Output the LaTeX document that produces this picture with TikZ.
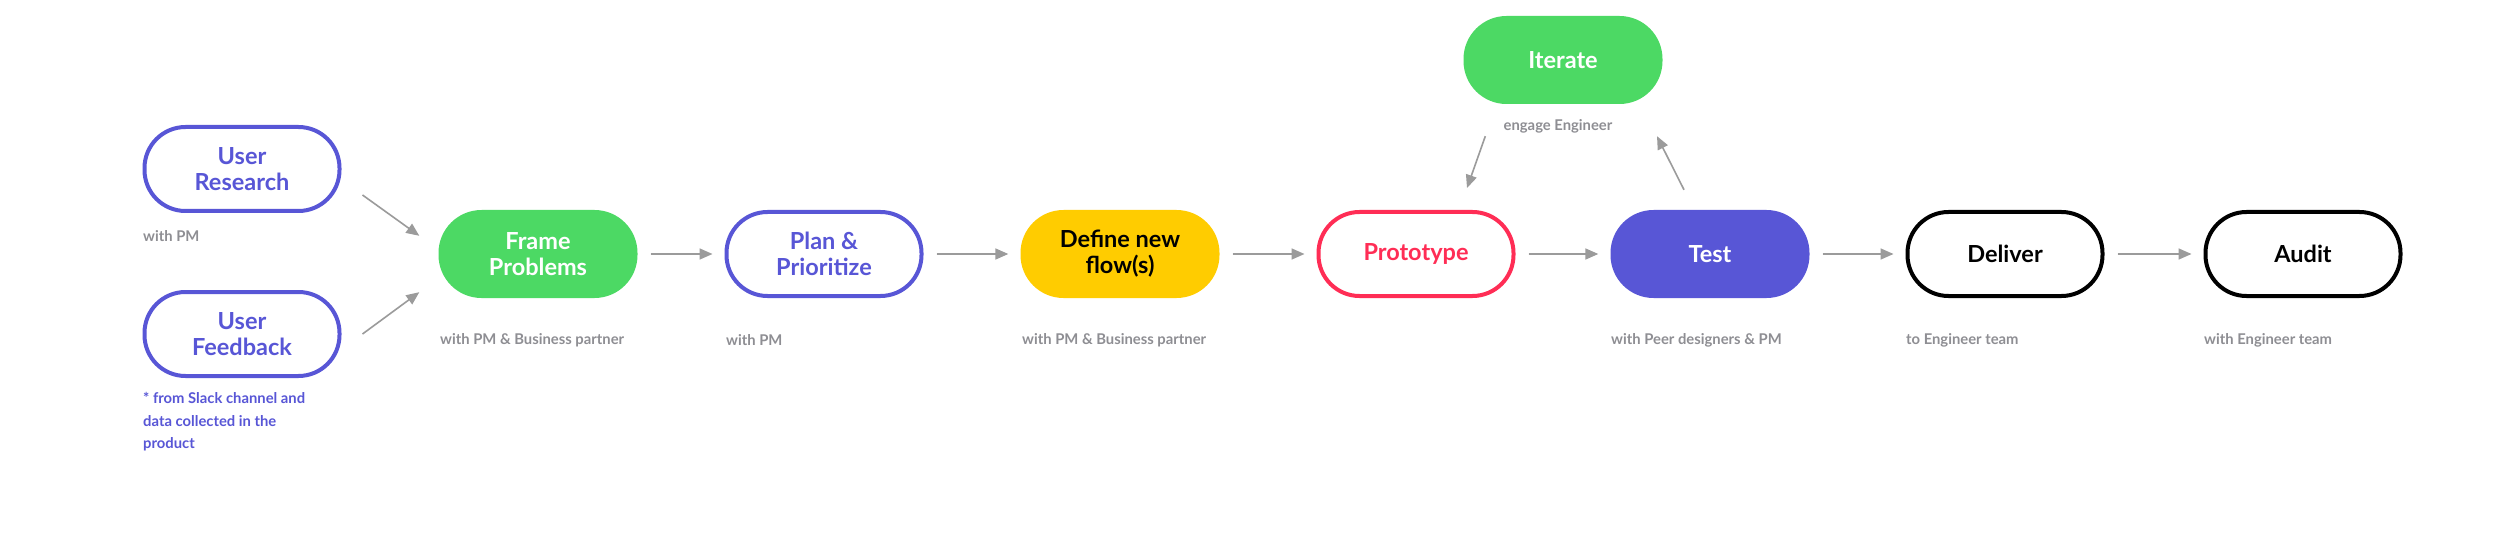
\documentclass[tikz,border=0pt]{standalone}
\usepackage{fontspec}
\setmainfont{Lato}
\usetikzlibrary{arrows.meta}
\definecolor{cpurple}{HTML}{5856D6}
\definecolor{cgreen}{HTML}{4CD964}
\definecolor{cyellow}{HTML}{FFCC00}
\definecolor{cred}{HTML}{FF2D55}
\definecolor{cgray}{HTML}{8E8E93}
\definecolor{carrow}{HTML}{9B9B9B}
\tikzset{
  pill/.style={rounded corners=43pt, minimum width=199pt, minimum height=88pt,
    align=center, inner sep=0pt, font=\bfseries\fontsize{23.5}{26}\selectfont},
  pillfill/.style={pill, fill=#1, draw=none},
  pillline/.style={pill, draw=#1, line width=4pt, minimum width=195pt, minimum height=84pt, rounded corners=41pt, fill=white},
  note/.style={font=\bfseries\fontsize{14.8}{22.5}\selectfont, text=cgray, anchor=west, inner sep=0pt, align=left},
  arr/.style={draw=carrow, line width=1.6pt, -{Triangle[length=13pt,width=11pt]}, fill=carrow},
}
\begin{document}
\begin{tikzpicture}[x=1pt,y=-1pt]
\fill[white] (0,0) rectangle (2500,540);
\useasboundingbox (0,0) rectangle (2500,540);

\node[pillline=cpurple, text=cpurple] (research) at (242,169) {User\\Research};
\node[pillline=cpurple, text=cpurple] (feedback) at (242,334) {User\\Feedback};
\node[pillfill=cgreen, text=white] (frame) at (538,254) {Frame\\Problems};
\node[pillline=cpurple, text=cpurple] (plan) at (824,254) {Plan \&\\Prioritize};
\node[pillfill=cyellow, text=black] (define) at (1120,254) {Define new\\flow(s)};
\node[pillline=cred, text=cred] (proto) at (1416,254) {Prototype};
\node[pillfill=cpurple, text=white] (test) at (1710,254) {Test};
\node[pillline=black, text=black] (deliver) at (2005,254) {Deliver};
\node[pillline=black, text=black] (audit) at (2303,254) {Audit};
\node[pillfill=cgreen, text=white] (iterate) at (1563,60) {Iterate};

\node[note] (n1) at (143,236) {with PM};
\node[note, text=cpurple] (n2) at (143,422) {* from Slack channel and\\data collected in the\\product};
\node[note] (n3) at (440,340) {with PM \& Business partner};
\node[note] (n4) at (726,340) {with PM};
\node[note] (n5) at (1022,340) {with PM \& Business partner};
\node[note] (n6) at (1611,340) {with Peer designers \& PM};
\node[note] (n7) at (1906,340) {to Engineer team};
\node[note] (n8) at (2204,340) {with Engineer team};
\node[note, anchor=center] (n9) at (1558,126) {engage Engineer};

\draw[arr] ([shift={(21,26)}]research.east) -- ([shift={(-19,26)}]frame.north west);
\draw[arr] ([shift={(21,-44)}]feedback.south east) -- ([shift={(-19,-6)}]frame.south west);
\draw[arr, shorten <=13pt, shorten >=12pt] (frame) -- (plan);
\draw[arr, shorten <=13pt, shorten >=12pt] (plan) -- (define);
\draw[arr, shorten <=13pt, shorten >=12pt] (define) -- (proto);
\draw[arr, shorten <=13pt, shorten >=12pt] (proto) -- (test);
\draw[arr, shorten <=13pt, shorten >=12pt] (test) -- (deliver);
\draw[arr, shorten <=13pt, shorten >=12pt] (deliver) -- (audit);
\draw[arr] ([shift={(22,32)}]iterate.south west) -- ([shift={(51,-22)}]proto.north);
\draw[arr] ([shift={(-26,-20)}]test.north) -- ([shift={(94,32)}]iterate.south);
\end{tikzpicture}
\end{document}
